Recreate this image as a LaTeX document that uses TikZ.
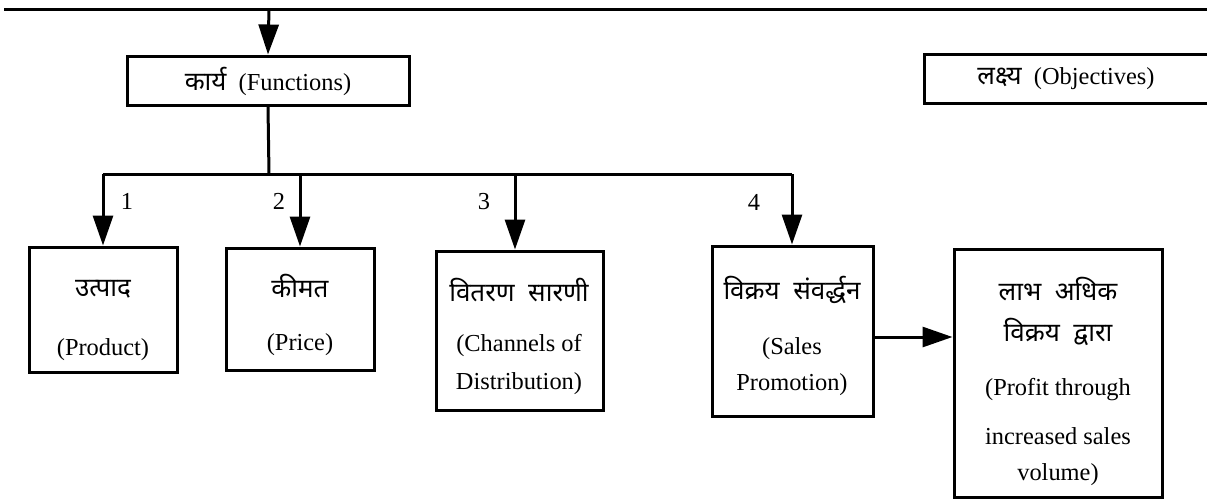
\documentclass[tikz,border=0pt]{standalone}
\usepackage{fontspec}
\setmainfont{Liberation Serif}
\newfontfamily\deva[Script=Devanagari]{Noto Sans}
\usetikzlibrary{arrows.meta,fit}
\newcommand\dv[1]{{\fontsize{13}{15}\deva #1}}
\begin{document}
\begin{tikzpicture}[x=0.5pt,y=-0.5pt,
  line width=1.5pt,
  box/.style={draw,rectangle,inner sep=0pt,line width=1.5pt},
  txt/.style={inner sep=0pt,font=\fontsize{12.2}{14}\selectfont},
  dtxt/.style={inner sep=0pt,font=\fontsize{13}{15}\deva},
  arr/.style={-{Triangle[length=15pt,width=10pt]}}]
\useasboundingbox (0,0) rectangle (1207,500);

% top rule and the two header boxes
\coordinate (tl) at (4,9);
\coordinate (tr) at (1210,9);
\coordinate (tj) at (269,9);
\draw (tl) -- (tr);

\node[box,fit={(127,56) (409,105)}] (fun) {};
\node[txt] (funt) at (268,81) {\dv{कार्य}~~(Functions)};

\node[box,fit={(924,54) (1212,103)}] (obj) {};
\node[txt] (objt) at (1066,79) {\dv{लक्ष्य}~~(Objectives)};

\draw[arr] (tj) -- (fun.north);

% branch bus
\coordinate (j) at (269,174);
\coordinate (b1) at (103,174);
\coordinate (b2) at (300,174);
\coordinate (b3) at (515,174);
\coordinate (b4) at (792,174);
\draw (fun.south) -- (j);
\draw (b1) -- (b4);

% function boxes
\node[box,fit={(29,247) (177,372)}] (prod) {};
\node[box,fit={(226,248) (374,370)}] (price) {};
\node[box,fit={(436,251) (603,410)}] (chan) {};
\node[box,fit={(712,246) (873,416)}] (sales) {};
\node[box,fit={(954,249) (1162,497)}] (prof) {};

\draw[arr] (b1) -- (prod.north);
\draw[arr] (b2) -- (price.north);
\draw[arr] (b3) -- (b3 |- chan.north);
\draw[arr] (b4) -- (b4 |- sales.north);

\node[txt] (n1) at (127,201) {1};
\node[txt] (n2) at (279,201) {2};
\node[txt] (n3) at (484,202) {3};
\node[txt] (n4) at (754,202) {4};

% box texts
\node[dtxt] (prodd) at (103,289) {उत्पाद};
\node[txt] (prode) at (103,350) {(Product)};

\node[dtxt] (priced) at (300,286) {कीमत};
\node[txt] (pricee) at (300,345) {(Price)};

\node[dtxt] (chand) at (519,290) {वितरण~~सारणी};
\node[txt] (chane1) at (519,345) {(Channels of};
\node[txt] (chane2) at (519,384) {Distribution)};

\node[dtxt] (salesd) at (792,290) {विक्रय~~संवर्द्धन};
\node[txt] (salese1) at (792,349) {(Sales};
\node[txt] (salese2) at (792,385) {Promotion)};

\node[dtxt] (profd1) at (1058,289) {लाभ~~अधिक};
\node[dtxt] (profd2) at (1058,332) {विक्रय~~द्वारा};
\node[txt] (profe1) at (1058,390) {(Profit through};
\node[txt] (profe2) at (1058,436) {increased sales};
\node[txt] (profe3) at (1058,475) {volume)};

\coordinate (mid) at (910,337);
\draw[arr] (sales.east |- mid) -- (prof.west |- mid);
\end{tikzpicture}
\end{document}
